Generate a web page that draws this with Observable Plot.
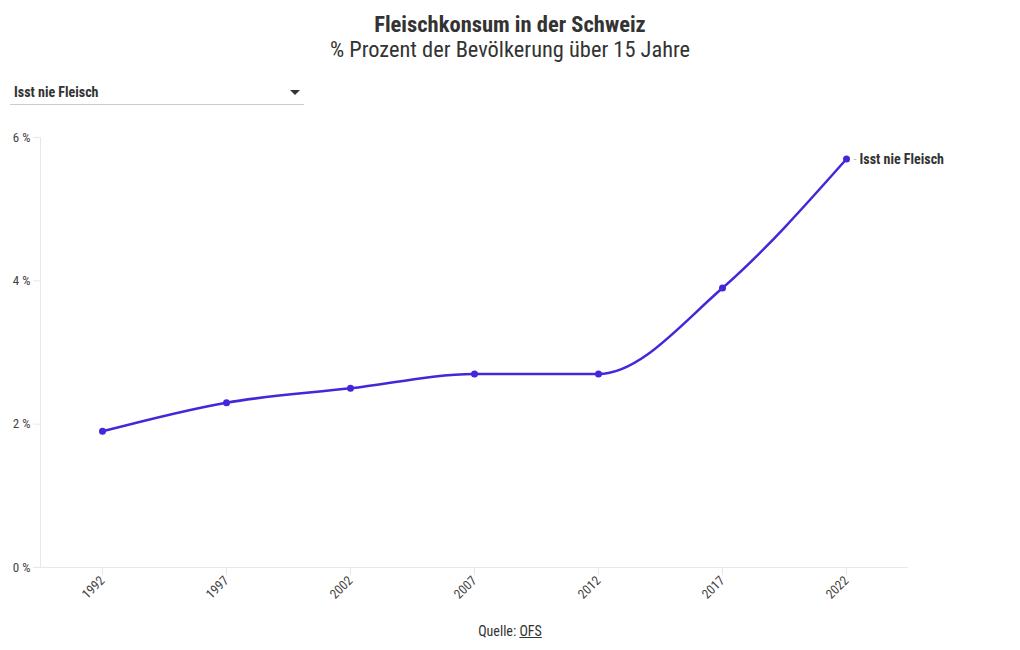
<!DOCTYPE html>
<html><head><meta charset="utf-8">
<script src="https://cdn.jsdelivr.net/npm/d3@7"></script>
<script src="https://cdn.jsdelivr.net/npm/@observablehq/plot@0.6"></script>
<style>
body{margin:0;background:#fff;font-family:"Roboto Condensed","Liberation Sans Narrow","DejaVu Sans Condensed",Roboto,sans-serif;color:#333;}
#wrap{position:relative;width:1020px;height:650px;overflow:hidden;}
#title{position:absolute;top:11px;left:0;width:1020px;text-align:center;font-size:22.5px;font-weight:bold;color:#333;}
#sub{position:absolute;top:36px;left:0;width:1020px;text-align:center;font-size:22.4px;color:#333;}
#dd{position:absolute;top:83px;left:10px;width:294px;height:21px;border-bottom:1px solid #ccc;font-size:14px;font-weight:bold;color:#333;}
#dd span{position:absolute;left:4px;top:1px;}
#dd i{position:absolute;right:4px;top:7px;width:0;height:0;border-left:5px solid transparent;border-right:5px solid transparent;border-top:5px solid #333;}
#chart{position:absolute;top:110px;left:0;}
#cap{position:absolute;top:623px;left:0;width:1020px;text-align:center;font-size:14px;color:#333;}
#cap u{text-decoration:underline;}
</style></head>
<body><div id="wrap">
<div id="title">Fleischkonsum in der Schweiz</div>
<div id="sub">% Prozent der Bevölkerung über 15 Jahre</div>
<div id="dd"><span>Isst nie Fleisch</span><i></i></div>
<div id="chart"></div>
<div id="cap">Quelle: <u>OFS</u></div>
</div>
<script>
const years = [1992, 1997, 2002, 2007, 2012, 2017, 2022];
const values = [1.9, 2.3, 2.5, 2.7, 2.7, 3.9, 5.7];
const seriesName = "Isst nie Fleisch";
const yTicks = [0, 2, 4, 6];

const data = years.map((y, i) => ({year: y, value: values[i]}));
const last = data[data.length - 1];
const color = "#4526d9";

const chart = Plot.plot({
  width: 1020,
  height: 510,
  marginTop: 27,
  marginBottom: 53,
  marginLeft: 40,
  marginRight: 112,
  style: {fontFamily: '"Roboto Condensed","Liberation Sans Narrow","DejaVu Sans Condensed",Roboto,sans-serif', fontSize: "13px", color: "#444", background: "#fff"},
  x: {domain: [1989.5, 2024.5]},
  y: {domain: [0, 6]},
  marks: [
    Plot.ruleX([1989.5], {stroke: "#e8e8e8"}),
    Plot.ruleY([0], {stroke: "#e8e8e8"}),
    Plot.axisY({ticks: yTicks, tickFormat: d => d + " %", tickSize: 7, tickPadding: 3, stroke: "#e8e8e8", label: null, fill: "#444", fontSize: 13}),
    Plot.axisX({ticks: years, tickFormat: d => String(d), tickRotate: -45, tickSize: 8, tickPadding: 3, stroke: "#e8e8e8", label: null, fill: "#444", fontSize: 13}),
    Plot.line(data, {x: "year", y: "value", stroke: color, strokeWidth: 2.5, curve: "monotone-x"}),
    Plot.dot(data, {x: "year", y: "value", fill: color, r: 3.5}),
    Plot.text([last], {x: "year", y: "value", text: () => "-", dx: 7, textAnchor: "start", fontSize: 12, fill: "#bbb"}),
    Plot.text([last], {x: "year", y: "value", text: () => seriesName, dx: 13, dy: 1, textAnchor: "start", fontWeight: "bold", fontSize: 14, fill: "#333"})
  ]
});
document.getElementById("chart").appendChild(chart);
</script>
</body></html>
